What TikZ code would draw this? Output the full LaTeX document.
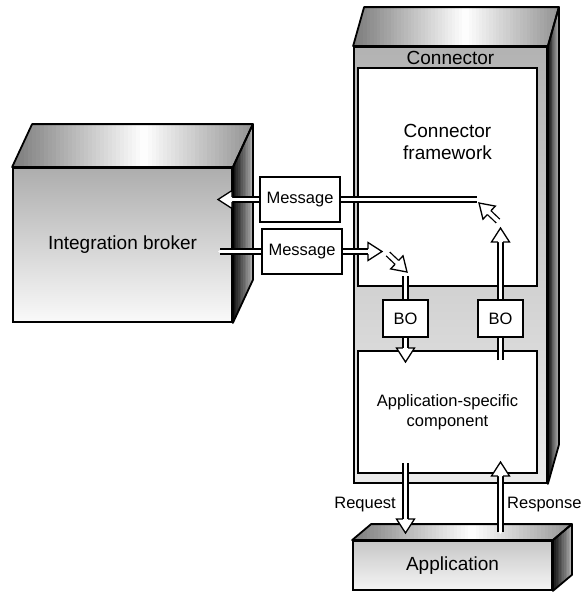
\documentclass[tikz,border=0pt]{standalone}
\usepackage{fontspec}
\setmainfont{Liberation Sans}
\usetikzlibrary{positioning}
\usetikzlibrary{decorations.markings}

\pgfdeclarelayer{front}
\pgfsetlayers{main,front}

\tikzset{
  big/.style={font=\fontsize{19}{22}\selectfont, inner sep=0pt},
  small/.style={font=\fontsize{16.5}{20}\selectfont, inner sep=0pt},
  box/.style={draw=black, line width=1.6pt, fill=white},
  front/.style={draw=black, line width=1.8pt, shading=axis},
  rim/.style={draw=black, line width=1.8pt, line join=round},
  pipe/.style={draw=white, line width=3.8pt, line cap=round,
    preaction={draw=black, line width=6.4pt}},
  head/.style={draw=black, fill=white, line width=1.3pt, line join=miter,
    line cap=butt, shorten >=0pt, shorten <=0pt},
  flow/.style={draw=white, line width=3.8pt, line cap=round, shorten >=12pt,
    preaction={draw=black, line width=6.4pt, shorten >=12pt},
    postaction={decorate, decoration={markings, mark=at position 1 with
      {\draw[head] (-14pt,2.55pt) -- (-14pt,9pt) -- (0pt,0pt) -- (-14pt,-9pt) -- (-14pt,-2.55pt);}}}}
}

\begin{document}
\begin{tikzpicture}[x=1pt, y=-1pt]
\useasboundingbox (0,0) rectangle (584,592);

\node[front, big,
    top color=black!32,
    bottom color=black!2,
    minimum width=219pt,
    minimum height=154pt] (broker) at (122.5,245) {Integration broker};

\node[front,
    top color=black!30,
    bottom color=black!8,
    minimum width=193pt,
    minimum height=436pt] (conn) at (450.5,265) {};

\node[front, big,
    top color=black!22,
    bottom color=black!4,
    minimum width=199pt,
    minimum height=49pt] (app) at (452.5,565.5) {Application};

% lids and sides, shaded with strips
\foreach \nm/\fw/\dx/\dy in {broker/219/20/43, conn/193/11/39, app/199/19/16} {
  \begin{scope}
    \clip (\nm.north west) -- ++(\dx,-\dy) -- ([shift={(\dx,-\dy)}]\nm.north east) -- (\nm.north east) -- cycle;
    \foreach \ii in {0,...,59} {
      \pgfmathsetmacro\pos{(\ii+0.5)/60}
      \pgfmathsetmacro\shadeval{\pos<0.55 ? 52*(1-\pos/0.55) : 42*(\pos-0.55)/0.45}
      \pgfmathsetmacro\xa{(\fw+\dx)*\ii/60}
      \pgfmathsetmacro\xb{(\fw+\dx)*(\ii+1)/60+0.6}
      \fill[black!\shadeval] ([xshift=\xa pt]\nm.north west) rectangle ([xshift=\xb pt, yshift=\dy pt]\nm.north west);
    }
  \end{scope}
  \begin{scope}
    \clip (\nm.north east) -- ++(\dx,-\dy) -- ([shift={(\dx,-\dy)}]\nm.south east) -- (\nm.south east) -- cycle;
    \foreach \ii in {0,...,11} {
      \pgfmathsetmacro\shadeval{95-65*(\ii+0.5)/12}
      \pgfmathsetmacro\xa{\dx*\ii/12}
      \pgfmathsetmacro\xb{\dx*(\ii+1)/12+0.6}
      \fill[black!\shadeval] ([xshift=\xa pt]\nm.south east) rectangle ([xshift=\xb pt, yshift=\dy pt]\nm.north east);
    }
  \end{scope}
  \draw[rim] (\nm.north west) -- ++(\dx,-\dy) -- ([shift={(\dx,-\dy)}]\nm.north east) -- (\nm.north east) -- cycle;
  \draw[rim] (\nm.north east) -- ++(\dx,-\dy) -- ([shift={(\dx,-\dy)}]\nm.south east) -- (\nm.south east) -- cycle;
}

\node[big, below=4.5pt of conn.north] (connname) {Connector};

\node[box, minimum width=179pt, minimum height=218pt] (frame) at (447.5,177) {};
\node[big, align=center, below=57pt of frame.north] (framename) {Connector\\framework};
\node[box, small, align=center, minimum width=179pt, minimum height=122pt] (asc) at (447.5,412) {Application-specific\\component};

\begin{pgfonlayer}{front}
\node[box, small, minimum width=80pt, minimum height=45pt] (msgA) at (300,199.5) {Message};
\node[box, small, minimum width=80pt, minimum height=45pt] (msgB) at (302,251.5) {Message};
\node[box, small, minimum width=45pt, minimum height=37pt] (bol) at (405.5,318.5) {BO};
\node[box, small, minimum width=45pt, minimum height=37pt] (bor) at (500.5,318.5) {BO};
\end{pgfonlayer}

\coordinate (inA) at (218,199.5);
\coordinate (endA) at (477,199.5);
\coordinate (diagA) at (498,221);
\coordinate (tipA) at (479,203);
\coordinate (upr) at (500.5,228);
\coordinate (lowr) at (500.5,360);
\coordinate (outB) at (220,251.5);
\coordinate (inB) at (382,251.5);
\coordinate (diagB) at (388,254);
\coordinate (tipB) at (407,272);
\coordinate (topl) at (405.5,276);
\coordinate (lowl) at (405.5,362);
\coordinate (reqtop) at (405.5,463);
\coordinate (reqtip) at (405.5,533);
\coordinate (resbot) at (500.5,532);
\coordinate (restip) at (500.5,462);

\draw[flow] (msgA.west) -- (inA);
\draw[pipe] (msgA.east) -- (endA);
\draw[flow] (diagA) -- (tipA);
\draw[flow] (bor.north) -- (upr);
\draw[pipe] (lowr) -- (bor.south);

\draw[pipe] (outB) -- (msgB.west);
\draw[flow] (msgB.east) -- (inB);
\draw[flow] (diagB) -- (tipB);
\draw[pipe] (topl) -- (bol.north);
\draw[flow] (bol.south) -- (lowl);

\draw[flow] (reqtop) -- (reqtip);
\draw[flow] (resbot) -- (restip);
\node[small, anchor=east] (reqname) at (396,505) {Request};
\node[small, anchor=west] (resname) at (507,505) {Response};

\end{tikzpicture}
\end{document}
